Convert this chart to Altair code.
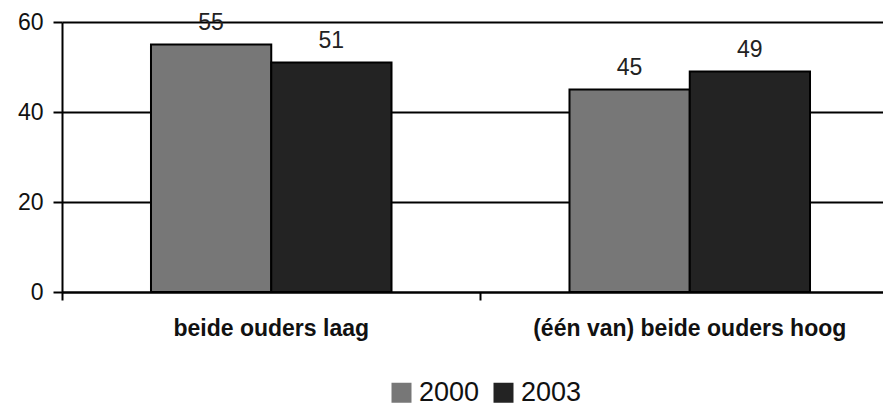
import altair as alt
import pandas as pd

categories = ["beide ouders laag", "(één van) beide ouders hoog"]
years = ["2000", "2003"]
values_2000 = [55, 45]
values_2003 = [51, 49]
colors = ["#777777", "#232323"]

rows = []
for i, c in enumerate(categories):
    rows.append({"groep": c, "jaar": years[0], "waarde": values_2000[i]})
    rows.append({"groep": c, "jaar": years[1], "waarde": values_2003[i]})
df = pd.DataFrame(rows)

W = 821
H = 270

x = alt.X("groep:N", sort=categories, title=None,
          scale=alt.Scale(paddingInner=0, paddingOuter=0, range=[0, 837]),
          axis=alt.Axis(labelAngle=0, bandPosition=0, ticks=True, tickSize=8,
                        tickColor="black", tickWidth=2, domainColor="black",
                        domainWidth=2, labelFont="Liberation Sans", labelFontWeight="bold",
                        labelFontSize=23, labelColor="#111", labelPadding=17,
                        labelLimit=0, labelBaseline="top", grid=False))
xo = alt.XOffset("jaar:N", sort=years,
                 scale=alt.Scale(paddingInner=0, paddingOuter=0.74))
y = alt.Y("waarde:Q", title=None,
          scale=alt.Scale(domain=[0, 60], nice=False),
          axis=alt.Axis(values=[0, 20, 40, 60], tickSize=9, tickColor="black",
                        tickWidth=2, domainColor="black", domainWidth=2,
                        gridColor="black", gridWidth=2, gridOpacity=1,
                        labelFont="Liberation Sans", labelFontSize=23, labelColor="#111",
                        labelPadding=10))

color = alt.Color("jaar:N", sort=years,
                  scale=alt.Scale(domain=years, range=colors),
                  legend=alt.Legend(title=None, orient="none", legendX=326, legendY=357,
                                    direction="horizontal", symbolType="square",
                                    symbolSize=400, symbolStrokeWidth=0,
                                    labelFont="Liberation Sans", labelFontSize=27,
                                    labelColor="#111", columnPadding=10, labelOffset=4,
                                    padding=0))

bars = alt.Chart(df).mark_bar(stroke="black", strokeWidth=2, opacity=1).encode(
    x=x, xOffset=xo, y=y, color=color
)
labels = alt.Chart(df).mark_text(
    baseline="alphabetic", dy=-15, font="Liberation Sans", fontSize=23, color="#222"
).encode(
    x=x, xOffset=xo, y=y, text="waarde:Q"
)

chart = alt.layer(bars, labels).properties(
    width=W, height=H,
    autosize=alt.AutoSizeParams(type="none"),
    padding={"left": 54, "top": 14, "right": 0, "bottom": 115},
    background="white"
).configure_view(stroke=None)

chart.save("out.html", embed_options={"renderer": "svg", "actions": False})
